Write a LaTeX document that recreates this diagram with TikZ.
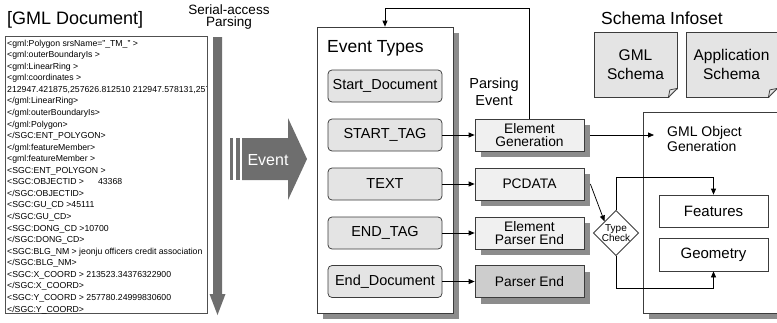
\documentclass[tikz,border=0pt]{standalone}
\usepackage{fontspec}
\setmainfont{Liberation Sans}
\usetikzlibrary{arrows.meta,shapes.geometric,shadows}
\definecolor{bordc}{HTML}{3C3C3C}
\definecolor{darkg}{HTML}{6E6E6E}
\definecolor{evfill}{HTML}{E4E4E4}
\definecolor{pfill}{HTML}{F0F0F0}
\definecolor{pefill}{HTML}{CDCDCD}
\definecolor{shd}{HTML}{8C8C8C}
\definecolor{docb}{HTML}{505050}
\begin{document}
\begin{tikzpicture}[x=1pt,y=-1pt,
  myshadow/.style={drop shadow={shadow xshift=6pt,shadow yshift=-6pt,fill=shd,opacity=1}},
  evtbox/.style={draw=bordc,fill=evfill,rounded corners=4pt,minimum width=114pt,minimum height=32pt,inner sep=0pt,line width=0.75pt,font=\fontsize{14.5}{14}\selectfont},
  pbox/.style={draw=bordc,fill=pfill,minimum width=109pt,minimum height=32pt,inner sep=0pt,align=center,line width=0.75pt,myshadow,font=\fontsize{13.8}{12.5}\selectfont},
  schemadoc/.style={draw=bordc,fill=evfill,inner sep=0pt,align=center,line width=0.75pt,font=\fontsize{15.5}{19}\selectfont},
  plainbox/.style={draw=bordc,fill=white,minimum width=109pt,minimum height=32pt,inner sep=0pt,line width=0.75pt,font=\fontsize{15}{15}\selectfont},
  lbl/.style={inner sep=0pt,align=center},
  ar/.style={-{Triangle[length=6pt,width=5pt]},draw=black,line width=0.75pt}
]
\useasboundingbox (0,0) rectangle (777,322);

% --- GML Document ---
\node[lbl,anchor=west,font=\fontsize{18}{18}\selectfont] (doctitle) at (7,19.5) {[GML Document]};
\node[draw=docb,line width=1pt,fill=white,minimum width=202pt,minimum height=277pt,inner sep=0pt] (doc) at (106,174.5) {};
\begin{scope}
\clip (5.5,36.5) rectangle (206.5,313);
\node[anchor=north west,align=left,inner sep=0pt,font=\fontsize{8.7}{11.57}\selectfont] (doctext) at (7,39.5) {%
<gml:Polygon srsName="\_TM\_" >\\
<gml:outerBoundaryIs >\\
<gml:LinearRing >\\
<gml:coordinates >\\
212947.421875,257626.812510 212947.578131,257626.8\\
</gml:LinearRing>\\
</gml:outerBoundaryIs>\\
</gml:Polygon>\\
</SGC:ENT\_POLYGON>\\
</gml:featureMember>\\
<gml:featureMember >\\
<SGC:ENT\_POLYGON >\\
<SGC:OBJECTID >\hspace{14pt}43368\\
</SGC:OBJECTID>\\
<SGC:GU\_CD >45111\\
</SGC:GU\_CD>\\
<SGC:DONG\_CD >10700\\
</SGC:DONG\_CD>\\
<SGC:BLG\_NM > jeonju officers credit association\\
</SGC:BLG\_NM>\\
<SGC:X\_COORD > 213523.34376322900\\
</SGC:X\_COORD>\\
<SGC:Y\_COORD > 257780.24999830600\\
</SGC:Y\_COORD>};
\end{scope}

% --- serial access arrow ---
\node[lbl,font=\fontsize{13.5}{12}\selectfont] (serial) at (229,17) {Serial-access\\Parsing};
\fill[darkg] (213,37) -- (222,37) -- (222,294) -- (225.5,294) -- (217.5,315) -- (209.5,294) -- (213,294) -- cycle;

% --- Event block arrow ---
\fill[darkg] (230,138) rectangle (233,180);
\fill[darkg] (236,138) rectangle (240,180);
\fill[darkg] (242,138) -- (288,138) -- (288,118) -- (307,159) -- (288,200) -- (288,180) -- (242,180) -- cycle;
\node[lbl,text=white,font=\fontsize{16}{16}\selectfont] (evlbl) at (268,160) {Event};

% --- Event Types ---
\node[draw=bordc,fill=white,line width=0.75pt,minimum width=136pt,minimum height=286pt,inner sep=0pt,myshadow] (et) at (385,170) {};
\node[lbl,anchor=west,font=\fontsize{17.5}{17}\selectfont] (ettitle) at (327,48) {Event Types};
\node[evtbox] (sd) at (385,86) {Start\_Document};
\node[evtbox] (st) at (385,135) {START\_TAG};
\node[evtbox] (tx) at (385,184) {TEXT};
\node[evtbox] (en) at (385,233) {END\_TAG};
\node[evtbox] (ed) at (385,281.5) {End\_Document};

% --- parsing event boxes ---
\node[lbl,font=\fontsize{14.5}{17}\selectfont] (pe) at (494,91.5) {Parsing\\Event};
\node[pbox] (eg) at (529.5,135) {Element\\Generation};
\node[pbox] (pc) at (529.5,184) {PCDATA};
\node[pbox] (ep) at (529.5,233) {Element\\Parser End};
\node[pbox,fill=pefill] (pd) at (529.5,281.5) {Parser End};

\draw[ar] (st.east) -- (eg.west);
\draw[ar] (tx.east) -- (pc.west);
\draw[ar] (en.east) -- (ep.west);
\draw[ar] (ed.east) -- (pd.west);
\draw[ar] (eg.north) -- ++(0,-110) -| (et.north);

% --- Schema Infoset ---
\node[lbl,font=\fontsize{17.5}{17}\selectfont] (si) at (662,18) {Schema Infoset};
\node[schemadoc,minimum width=83pt,minimum height=65pt] (gs) at (635.5,64.5) {GML\\Schema};
\node[schemadoc,minimum width=91pt,minimum height=65pt] (as) at (731.5,64.5) {Application\\Schema};
\foreach \d in {gs,as}{
  \fill[white] ([xshift=-9pt,yshift=-1pt]\d.south east) -- ([xshift=1pt,yshift=-1pt]\d.south east) -- ([xshift=1pt,yshift=9pt]\d.south east) -- cycle;
  \draw[bordc,line width=0.75pt] ([xshift=-9pt]\d.south east) -- ([yshift=9pt]\d.south east);
  \draw[bordc,line width=0.75pt] ([xshift=-9pt]\d.south east) -- ([xshift=-7.5pt,yshift=7.5pt]\d.south east) -- ([yshift=9pt]\d.south east);
}

% --- GML Object Generation ---
\node[draw=bordc,fill=white,line width=0.75pt,minimum width=140pt,minimum height=201pt,inner sep=0pt,myshadow] (go) at (713,212.5) {};
\node[lbl,anchor=west,align=left,font=\fontsize{14}{15}\selectfont] (gotxt) at (667,139) {GML Object\\Generation};
\node[plainbox] (feat) at (713.5,211) {Features};
\node[plainbox,minimum height=33pt] (geo) at (713.5,254.5) {Geometry};
\coordinate (goin) at (654,135);
\draw[ar] ([xshift=6pt]eg.east) -- (goin);

% --- Type check ---
\node[diamond,draw=bordc,fill=white,line width=0.75pt,minimum width=44pt,minimum height=44pt,aspect=1,inner sep=0pt,align=center,font=\fontsize{10}{10}\selectfont] (tc) at (616,233) {Type\\Check};
\draw[ar] ([xshift=6pt]pc.east) -- (tc.north west);
\draw[ar] (tc.north) -- ++(0,-33) -| (feat.north);
\draw[ar] (tc.south) -- ++(0,32) -| (geo.south);
\end{tikzpicture}
\end{document}
